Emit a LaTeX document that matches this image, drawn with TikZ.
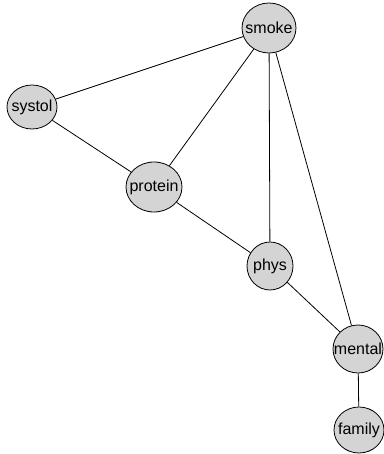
\documentclass[tikz,border=0pt]{standalone}
\usepackage{fontspec}
\setmainfont{Liberation Sans}
\usetikzlibrary{shapes.geometric}

\tikzset{
  var/.style={ellipse, draw=black, fill=black!17, line width=0.8pt, inner sep=0pt,
    font=\fontsize{16}{19}\selectfont},
  link/.style={line width=0.8pt}
}
\newcommand{\vlab}[1]{\makebox[0pt]{#1}}

\begin{document}
\begin{tikzpicture}[x=1pt,y=-1pt]
  \useasboundingbox (0,0) rectangle (383,454);
  % variables
  \node[var, minimum width=54, minimum height=50] (smoke) at (269,28) {\vlab{smoke}};
  \node[var, minimum width=50, minimum height=44] (systol) at (32,107) {\vlab{systol}};
  \node[var, minimum width=56, minimum height=50] (protein) at (154,187) {\vlab{protein}};
  \node[var, minimum width=46, minimum height=48] (phys) at (270,266) {\vlab{phys}};
  \node[var, minimum width=50, minimum height=48] (mental) at (358,349) {\vlab{mental}};
  \node[var, minimum width=50, minimum height=46] (family) at (359,430) {\vlab{family}};
  % links
  \draw[link] (smoke) -- (systol);
  \draw[link] (smoke) -- (protein);
  \draw[link] (smoke) -- (phys);
  \draw[link] (smoke) -- (mental);
  \draw[link] (systol) -- (protein);
  \draw[link] (protein) -- (phys);
  \draw[link] (phys) -- (mental);
  \draw[link] (mental) -- (family);
\end{tikzpicture}
\end{document}
